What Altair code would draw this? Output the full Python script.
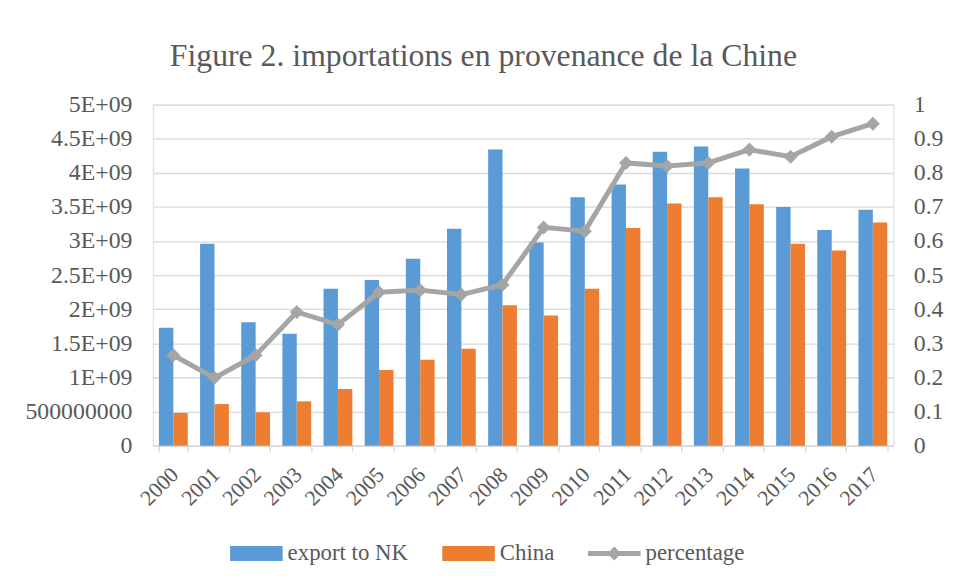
import altair as alt
import pandas as pd

years = [str(y) for y in range(2000, 2018)]
export_nk = [1.73e9, 2.96e9, 1.81e9, 1.64e9, 2.30e9, 2.43e9, 2.74e9, 3.18e9, 4.34e9,
             2.98e9, 3.64e9, 3.83e9, 4.31e9, 4.385e9, 4.065e9, 3.50e9, 3.16e9, 3.46e9]
china = [0.48e9, 0.61e9, 0.49e9, 0.65e9, 0.83e9, 1.11e9, 1.26e9, 1.42e9, 2.06e9,
         1.91e9, 2.30e9, 3.19e9, 3.55e9, 3.64e9, 3.54e9, 2.96e9, 2.86e9, 3.27e9]
percentage = [0.265, 0.199, 0.265, 0.392, 0.355, 0.450, 0.456, 0.443, 0.472,
              0.640, 0.629, 0.829, 0.820, 0.829, 0.868, 0.847, 0.906, 0.944]
series = ["export to NK", "China", "percentage"]
colors = ["#5b9bd5", "#ed7d31", "#a5a5a5"]
left_ticks = [i * 5e8 for i in range(11)]
right_ticks = [i / 10 for i in range(11)]

bars_df = pd.DataFrame(
    [{"year": y, "series": "export to NK", "value": v} for y, v in zip(years, export_nk)]
    + [{"year": y, "series": "China", "value": v} for y, v in zip(years, china)]
)
line_df = pd.DataFrame({"year": years, "pct": percentage})
legend_df = pd.DataFrame({"series": series})

FONT = "Liberation Serif"
TXT = "#595959"
GRID = "#d9d9d9"

rect_path = "M-1,-0.283L1,-0.283L1,0.283L-1,0.283Z"
line_path = "M-1,-0.094L1,-0.094L1,0.094L-1,0.094Z M-0.264,0L0,-0.264L0.264,0L0,0.264Z"


def make_legend():
    return alt.Legend(title=None, orient="none", legendX=78, legendY=426,
                      direction="horizontal", symbolSize=2809,
                      symbolStrokeWidth=0, labelFont=FONT, labelFontSize=23,
                      labelColor=TXT, labelOffset=5, columnPadding=34,
                      padding=0)


xscale = alt.Scale(domain=years, paddingInner=0.3, paddingOuter=0.15)
xaxis = alt.Axis(title=None, labelAngle=-45, labelFont=FONT, labelFontSize=22,
                 labelColor=TXT, domainColor=GRID, domainWidth=1.3, ticks=True,
                 tickBand="extent", tickColor=GRID, tickSize=6, tickWidth=1.3,
                 labelAlign="right", labelBaseline="top",
                 labelPadding=12, labelOffset=-6, grid=False)
color_scale = alt.Scale(domain=series, range=colors)

bars = alt.Chart(bars_df).mark_bar().encode(
    x=alt.X("year:N", scale=xscale, axis=xaxis),
    xOffset=alt.XOffset("series:N", scale=alt.Scale(domain=series[:2], paddingInner=0, paddingOuter=0)),
    y=alt.Y("value:Q", scale=alt.Scale(domain=[0, 5e9], nice=False),
            axis=alt.Axis(title=None, values=left_ticks, domain=False, ticks=False,
                          labelFont=FONT, labelFontSize=24, labelColor=TXT, labelPadding=21,
                          gridColor=GRID, gridWidth=1.3,
                          labelExpr="datum.value == 0 ? '0' : (datum.value < 1e9 ? '500000000' : (datum.value / 1e9) + 'E+09')")),
    color=alt.Color("series:N", scale=color_scale, sort=series, legend=make_legend()),
)

legend_layer = alt.Chart(legend_df).transform_filter("false").mark_point(filled=True, opacity=1).encode(
    color=alt.Color("series:N", scale=color_scale, sort=series, legend=make_legend()),
    shape=alt.Shape("series:N", scale=alt.Scale(domain=series, range=[rect_path, rect_path, line_path]),
                    sort=series, legend=make_legend()),
)

pct_y = alt.Y("pct:Q", scale=alt.Scale(domain=[0, 1], nice=False),
              axis=alt.Axis(title=None, orient="right", values=right_ticks, domain=False,
                            ticks=False, grid=False, labelFont=FONT, labelFontSize=24,
                            labelColor=TXT, labelPadding=20,
                            labelExpr="format(datum.value, '~g')"))

line = alt.Chart(line_df).mark_line(color="#a5a5a5", strokeWidth=5).encode(
    x=alt.X("year:N", scale=xscale, axis=xaxis),
    y=pct_y,
)
points = alt.Chart(line_df).mark_point(shape="diamond", filled=True, color="#a5a5a5",
                                       size=200, opacity=1).encode(
    x=alt.X("year:N", scale=xscale, axis=xaxis),
    y=pct_y,
)

chart = alt.layer(
    alt.layer(bars, legend_layer),
    alt.layer(line, points),
).resolve_scale(y="independent").properties(
    width=747,
    height=344,
    autosize=alt.AutoSizeParams(type="none"),
    padding={"left": 146, "top": 95, "right": 52, "bottom": 128},
    title=alt.TitleParams("Figure 2. importations en provenance de la Chine", font=FONT,
                          fontSize=32, fontWeight="normal", color=TXT, anchor="middle",
                          dx=-40, offset=20),
).configure_view(stroke=None).configure(background="white")

chart.save("out.html", embed_options={"renderer": "svg", "actions": False})
